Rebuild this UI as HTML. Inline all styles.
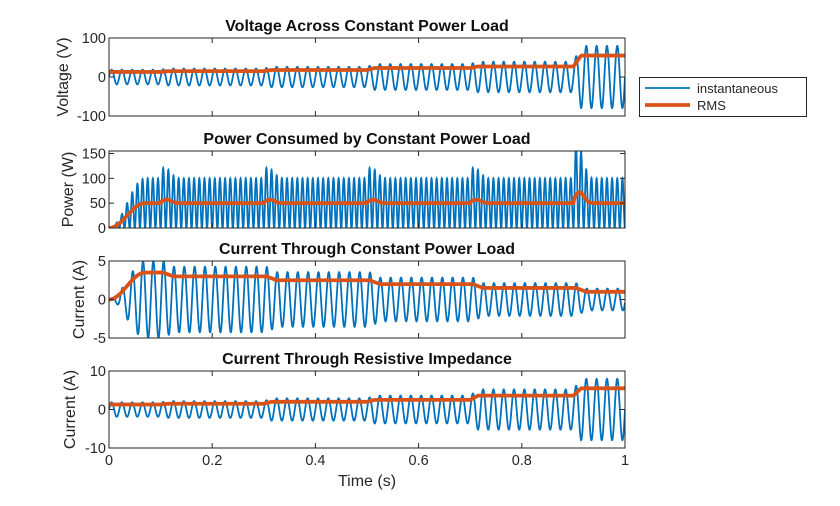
<!DOCTYPE html>
<html><head><meta charset="utf-8"><style>
body{margin:0;background:#fff}
svg{display:block;font-family:"Liberation Sans",Arial,sans-serif}
</style></head><body>
<svg id="s" width="840" height="506" viewBox="0 0 840 506"></svg>
<script>
const S=document.getElementById('s');
const X0=109,X1=625;
let out='';
function sx(t){return X0+(X1-X0)*t;}
function step(t,levels,times,w){
  let v=levels[0];
  for(let k=0;k<times.length;k++){const a=Math.min(1,Math.max(0,(t-times[k])/w));v+= (levels[k+1]-levels[k])*a;}
  return v;}
const T=[0.1,0.3,0.5,0.7,0.9];
function axes(y0,y1,ymin,ymax,ticks,title,ylab,inst,rms,xlabels){
  const sy=v=>y1-(v-ymin)/(ymax-ymin)*(y1-y0);
  let g=`<defs><clipPath id="c${y0}"><rect x="${X0}" y="${y0}" width="${X1-X0}" height="${y1-y0}"/></clipPath></defs><g clip-path="url(#c${y0})">`;
  let d='';const N=5000;
  for(let i=0;i<=N;i++){const t=i/N;d+=(i?'L':'M')+sx(t).toFixed(2)+' '+sy(inst(t)).toFixed(2);}
  g+=`<path d="${d}" fill="none" stroke="#0072BD" stroke-width="1.8"/>`;
  d='';for(let i=0;i<=500;i++){const t=i/500;d+=(i?'L':'M')+sx(t).toFixed(2)+' '+sy(rms(t)).toFixed(2);}
  g+=`<path d="${d}" fill="none" stroke="#D95319" stroke-width="3.8"/></g>`;
  g+=`<rect x="${X0}" y="${y0}" width="${X1-X0}" height="${y1-y0}" fill="none" stroke="#262626" stroke-width="1"/>`;
  for(let k=0;k<=5;k++){const x=sx(k*0.2);g+=`<line x1="${x}" y1="${y1}" x2="${x}" y2="${y1-5}" stroke="#262626"/><line x1="${x}" y1="${y0}" x2="${x}" y2="${y0+5}" stroke="#262626"/>`;
    if(xlabels)g+=`<text x="${x}" y="${y1+17}" font-size="14.5" text-anchor="middle" fill="#262626">${['0','0.2','0.4','0.6','0.8','1'][k]}</text>`;}
  for(const v of ticks){const y=sy(v);g+=`<line x1="${X0}" y1="${y}" x2="${X0+5}" y2="${y}" stroke="#262626"/><line x1="${X1}" y1="${y}" x2="${X1-5}" y2="${y}" stroke="#262626"/><text x="${X0-3}" y="${y+5}" font-size="14.5" text-anchor="end" fill="#262626">${v}</text>`;}
  g+=`<text x="${(X0+X1)/2}" y="${y0-7}" font-size="16" font-weight="bold" text-anchor="middle" fill="#111">${title}</text>`;
  g+=`<text transform="translate(${ylab[1]},${(y0+y1)/2}) rotate(-90)" font-size="16" text-anchor="middle" fill="#262626">${ylab[0]}</text>`;
  out+=g;}
const W=2*Math.PI*50;
const vr=t=>step(t,[13,15,18,23,27,55],T,0.015);
axes(38,116,-100,100,[100,0,-100],'Voltage Across Constant Power Load',['Voltage (V)',68],
 t=>vr(t)*1.45*Math.sin(W*t),vr);
const pr=t=>{let p=50*Math.min(1,Math.pow(t/0.07,1.5));for(const c of T){if(t>c)p+=(c>0.85?22:7)*Math.exp(-Math.pow((t-c-0.012)/0.012,2));}if(t<0.07)p=50*(1-Math.cos(Math.PI*t/0.07))/2;return p;};
axes(151,228,0,155,[150,100,50,0],'Power Consumed by Constant Power Load',['Power (W)',73],
 t=>{let r=pr(t);let sp=0;for(const c of T){if(t>c&&t<c+0.03)sp+=(c>0.85?55:18)*Math.exp(-(t-c)/0.01);}return 2*r*Math.pow(Math.sin(W*t),2)+sp*Math.pow(Math.sin(W*t),2);},pr);
const ir=t=>t<0.07?3.5*(1-Math.cos(Math.PI*t/0.07))/2:step(t,[3.5,3,2.5,2,1.5,1],T.map(c=>c+0.005),0.02);
axes(261,338,-5,5,[5,0,-5],'Current Through Constant Power Load',['Current (A)',84],
 t=>ir(t)*1.42*Math.sin(W*t-0.3),ir);
const rr=t=>step(t,[1.3,1.5,2,2.5,3.6,5.5],T,0.015);
axes(371,448,-10,10,[10,0,-10],'Current Through Resistive Impedance',['Current (A)',75],
 t=>rr(t)*1.45*Math.sin(W*t),rr,true);
out+=`<text x="367" y="486" font-size="16" text-anchor="middle" fill="#262626">Time (s)</text>`;
out+=`<rect x="639.5" y="77.5" width="167" height="39" fill="#fff" stroke="#262626" stroke-width="1"/>
<line x1="645" y1="88" x2="690" y2="88" stroke="#0072BD" stroke-width="1.8"/>
<line x1="645" y1="105" x2="690" y2="105" stroke="#D95319" stroke-width="3.8"/>
<text x="697" y="93" font-size="13" fill="#262626">instantaneous</text>
<text x="697" y="110" font-size="13" fill="#262626">RMS</text>`;
S.innerHTML=out;
</script>
</body></html>
